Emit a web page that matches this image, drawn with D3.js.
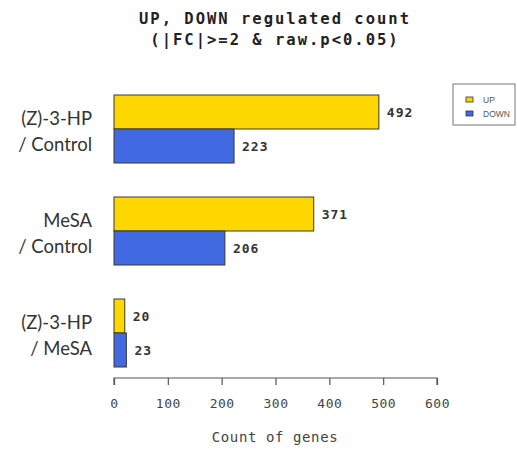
<!DOCTYPE html>
<html><head><meta charset="utf-8">
<script src="https://cdn.jsdelivr.net/npm/d3@7"></script>
<style>body{margin:0;background:#fff}svg{display:block}</style>
</head><body>
<svg id="c" width="517" height="454"></svg>
<script>
const groups = ["(Z)-3-HP|/ Control", "MeSA|/ Control", "(Z)-3-HP|/ MeSA"];
const seriesNames = ["UP", "DOWN"];
const upValues = [492, 371, 20];
const downValues = [223, 206, 23];
const xTicks = [0, 100, 200, 300, 400, 500, 600];
const titleLines = ["UP, DOWN regulated count", "(|FC|>=2 & raw.p<0.05)"];
const xTitle = "Count of genes";
const colors = {UP: "#FFD700", DOWN: "#4169E1"};

const svg = d3.select("#c");
const x = d3.scaleLinear().domain([0, 600]).range([114, 437]);
const y = d3.scaleBand().domain(groups).range([61, 401]).paddingInner(1/3).paddingOuter(1/3);
const ySub = d3.scaleBand().domain(seriesNames).range([0, y.bandwidth()]);

const data = groups.map((g, i) => ({g, vals: [{s: "UP", v: upValues[i]}, {s: "DOWN", v: downValues[i]}]}));

// title
svg.append("g").selectAll("text").data(titleLines).join("text")
  .attr("x", 275).attr("y", (d, i) => 24 + i * 21)
  .attr("text-anchor", "middle")
  .style("font-family", "DejaVu Sans Mono").style("font-weight", "bold")
  .style("font-size", "15.5px").style("letter-spacing", "2px").attr("fill", "#222")
  .text(d => d);

// bars
const gg = svg.append("g").selectAll("g").data(data).join("g")
  .attr("transform", d => `translate(0,${y(d.g)})`);
gg.selectAll("rect").data(d => d.vals).join("rect")
  .attr("x", x(0)).attr("y", d => ySub(d.s))
  .attr("width", d => x(d.v) - x(0)).attr("height", ySub.bandwidth())
  .attr("fill", d => colors[d.s]).attr("stroke", "#3a3a2a").attr("stroke-width", 1);
gg.selectAll("text.val").data(d => d.vals).join("text").attr("class", "val")
  .attr("x", d => x(d.v) + 8).attr("y", d => ySub(d.s) + ySub.bandwidth() / 2 + 5)
  .style("font-family", "DejaVu Sans Mono").style("font-weight", "bold")
  .style("font-size", "13px").style("letter-spacing", "1px").attr("fill", "#333")
  .text(d => d.v);

// group labels
gg.each(function(d) {
  const lines = d.g.split("|");
  const c = y.bandwidth() / 2;
  d3.select(this).selectAll("text.lab").data(lines).join("text").attr("class", "lab")
    .attr("x", 92).attr("y", (t, i) => c - 4 + i * 26)
    .attr("text-anchor", "end")
    .style("font-family", "Lato").style("font-size", "18.5px").attr("fill", "#333")
    .text(t => t);
});

// x axis
const ax = svg.append("g").attr("transform", "translate(0,378)")
  .call(d3.axisBottom(x).tickValues(xTicks).tickSize(7).tickPadding(14));
ax.select(".domain").attr("stroke", "#555").attr("stroke-width", 1.2).attr("d", `M${x(0)},7V0H${x(600)}V7`);
ax.selectAll(".tick line").attr("stroke", "#555").attr("stroke-width", 1.2);
ax.selectAll(".tick text").style("font-family", "DejaVu Sans Mono").style("font-size", "13px")
  .style("letter-spacing", "0.5px").attr("fill", "#444");

svg.append("text").attr("x", 275).attr("y", 442).attr("text-anchor", "middle")
  .style("font-family", "DejaVu Sans Mono").style("font-size", "14px").style("letter-spacing", "0.6px")
  .attr("fill", "#444").text(xTitle);

// legend
const lg = svg.append("g");
lg.append("rect").attr("x", 453).attr("y", 84).attr("width", 62).attr("height", 41)
  .attr("fill", "#fff").attr("stroke", "#777").attr("stroke-width", 1);
const li = lg.selectAll("g").data(seriesNames).join("g")
  .attr("transform", (d, i) => `translate(0,${97 + i * 14})`);
li.append("rect").attr("x", 466).attr("y", 0).attr("width", 7).attr("height", 5)
  .attr("fill", d => colors[d]).attr("stroke", "#333").attr("stroke-width", 0.8);
li.append("text").attr("x", 483).attr("y", 6)
  .style("font-family", "Liberation Sans").style("font-size", "8.5px").attr("fill", "#555")
  .text(d => d);
</script>
</body></html>
